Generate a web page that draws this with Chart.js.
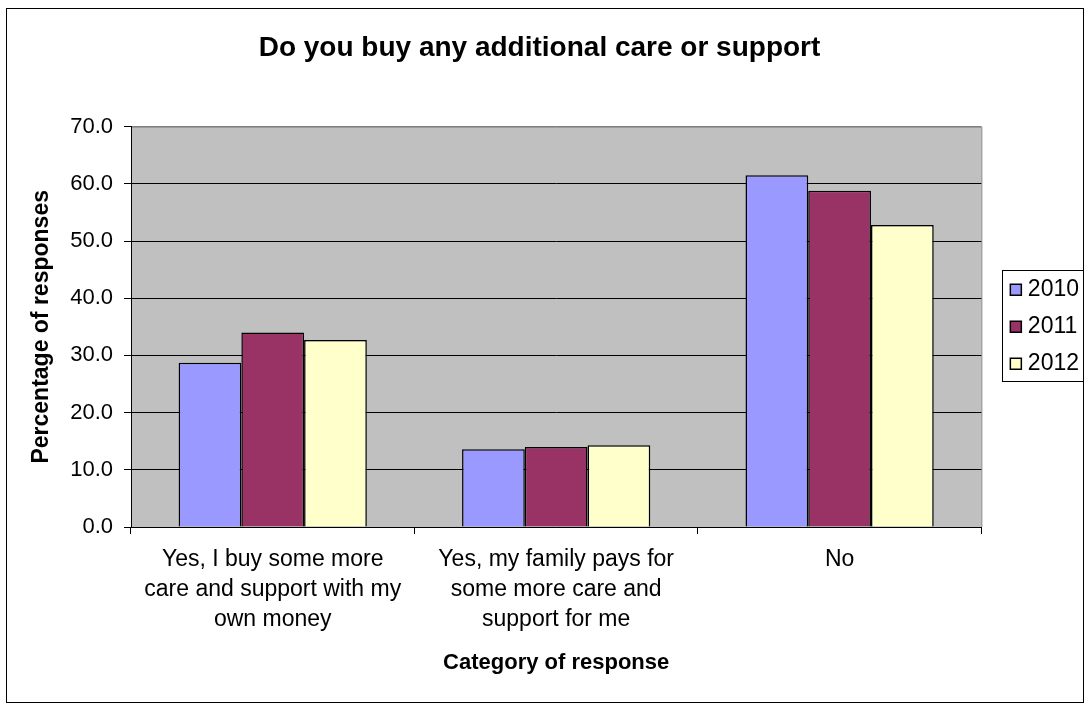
<!DOCTYPE html>
<html>
<head>
<meta charset="utf-8">
<script src="https://cdn.jsdelivr.net/npm/chart.js@4/dist/chart.umd.min.js"></script>
<style>
  html, body { margin: 0; padding: 0; background: #fff; }
  #wrap { width: 1089px; height: 709px; }
</style>
</head>
<body>
<div id="wrap"><canvas id="careChart" width="1089" height="709"></canvas></div>
<script>
const categories = [
    ['Yes, I buy some more', 'care and support with my', 'own money'],
    ['Yes, my family pays for', 'some more care and', 'support for me'],
    ['No']
];
const years = ['2010', '2011', '2012'];
const values2010 = [28.7, 13.6, 61.5];
const values2011 = [34.0, 14.0, 58.8];
const values2012 = [32.7, 14.3, 52.8];
const yearColors = ['#9999FF', '#993366', '#FFFFCC'];

const FONT = "'Liberation Sans', Arial, sans-serif";

// grey plot area, outer frame and a box round the legend
const frame = {
    id: 'frame',
    afterLayout(chart) {
        // leave a gap between the plot and the legend
        const lg = chart.legend;
        const shift = chart.chartArea.right + 20 - lg.left;
        lg.left += shift;
        lg.right += shift;
    },
    beforeDraw(chart) {
        const { ctx, chartArea: a } = chart;
        ctx.save();
        ctx.fillStyle = '#fff';
        ctx.fillRect(0, 0, chart.width, chart.height);
        ctx.fillStyle = '#C0C0C0';
        ctx.fillRect(a.left, a.top, a.right - a.left, a.bottom - a.top);
        ctx.strokeStyle = '#808080';
        ctx.lineWidth = 1;
        ctx.beginPath();
        ctx.moveTo(a.left, a.top + 0.5);
        ctx.lineTo(a.right + 0.5, a.top + 0.5);
        ctx.lineTo(a.right + 0.5, a.bottom);
        ctx.stroke();
        ctx.restore();
    },
    afterDraw(chart) {
        const { ctx } = chart;
        ctx.save();
        ctx.strokeStyle = '#000';
        ctx.lineWidth = 1;
        ctx.strokeRect(6.5, 8.5, 1077, 694);
        const boxes = chart.legend.legendHitBoxes;
        if (boxes && boxes.length) {
            const x0 = Math.min(...boxes.map(b => b.left)) - 13;
            const x1 = Math.max(...boxes.map(b => b.left + b.width)) + 4;
            const y0 = Math.min(...boxes.map(b => b.top)) - 8;
            const y1 = Math.max(...boxes.map(b => b.top + b.height)) + 6;
            ctx.strokeRect(Math.round(x0) + 0.5, Math.round(y0) + 0.5, Math.round(x1 - x0), Math.round(y1 - y0));
        }
        ctx.restore();
    }
};

const datasets = [values2010, values2011, values2012].map((data, i) => ({
    label: years[i],
    data,
    backgroundColor: yearColors[i],
    borderColor: '#000',
    borderWidth: 1.5,
    categoryPercentage: 0.664,
    barPercentage: 1.0,
    pointStyle: 'rect'
}));

new Chart(document.getElementById('careChart'), {
    type: 'bar',
    data: { labels: categories, datasets },
    plugins: [frame],
    options: {
        responsive: false,
        animation: false,
        layout: { padding: { left: 10, right: 20, top: 8, bottom: 10 } },
        plugins: {
            title: {
                display: true,
                text: 'Do you buy any additional care or support',
                color: '#000',
                font: { family: FONT, size: 28, weight: 'bold' },
                padding: { top: 23, bottom: 62 }
            },
            legend: {
                position: 'right',
                fullSize: false,
                labels: {
                    color: '#000',
                    font: { family: FONT, size: 23 },
                    usePointStyle: true,
                    boxWidth: 1,
                    boxHeight: 11,
                    padding: 14
                }
            },
            tooltip: { enabled: false }
        },
        scales: {
            x: {
                offset: true,
                afterFit(scale) { scale.height = 172; },
                grid: {
                    offset: true,
                    drawOnChartArea: false,
                    drawTicks: true,
                    tickLength: 7,
                    color: '#000'
                },
                border: { color: '#000', width: 1 },
                ticks: {
                    color: '#000',
                    padding: 11,
                    maxRotation: 0,
                    autoSkip: false,
                    font: { family: FONT, size: 23, lineHeight: 1.304 }
                },
                title: {
                    display: true,
                    text: 'Category of response',
                    color: '#000',
                    font: { family: FONT, size: 22, weight: 'bold' },
                    padding: { top: 0, bottom: 23 }
                }
            },
            y: {
                min: 0,
                max: 70,
                afterFit(scale) { scale.width = 121; },
                grid: {
                    color: ctx => (ctx.tick && ctx.tick.value === 70 ? '#808080' : '#000'),
                    tickColor: '#000',
                    tickLength: 7,
                    drawTicks: true
                },
                border: { color: '#000', width: 1 },
                ticks: {
                    stepSize: 10,
                    color: '#000',
                    padding: 11,
                    font: { family: FONT, size: 22 },
                    callback: v => Number(v).toFixed(1)
                },
                title: {
                    display: true,
                    text: 'Percentage of responses',
                    color: '#000',
                    font: { family: FONT, size: 23, weight: 'bold' },
                    padding: { top: 18, bottom: 0 }
                }
            }
        }
    }
});
</script>
</body>
</html>
